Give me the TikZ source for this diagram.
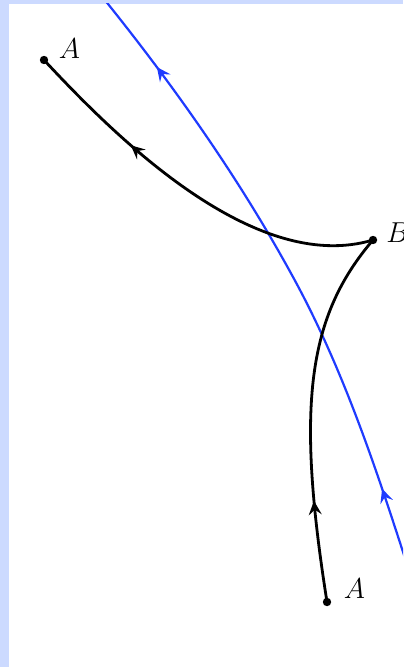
\documentclass[tikz,border=0pt]{standalone}
\usepackage{xcolor}
\usepackage{tikz}
\usetikzlibrary{arrows.meta,decorations.markings}
\definecolor{marco}{HTML}{CCDAFF}
\definecolor{orbita}{HTML}{1F3BFF}

\begin{document}
\begin{tikzpicture}[x=0.5pt, y=-0.5pt,
    punto/.style={circle, fill=black, inner sep=0pt, minimum size=4.2pt},
    etiqueta/.style={inner sep=0pt, font=\fontsize{15}{18}\selectfont},
    flecha/.style={postaction={decorate, decoration={markings,
        mark=at position #1 with {\arrow{Stealth[length=7pt,width=6.5pt,inset=2.6pt]}}}}},
    trayecto/.style={line width=1.4pt}]
        % Fondo y marco
        \useasboundingbox (0,0) rectangle (403,667);
        \fill[white] (0,0) rectangle (403,667);
        \fill[marco] (0,0) rectangle (403,4);
        \fill[marco] (0,0) rectangle (9,667);
        \clip (9,4) rectangle (403,667);

        % Puntos A, B, A
        \node[punto] (A1) at (44,60) {};
        \node[punto] (B) at (373,240) {};
        \node[punto] (A2) at (327,602) {};

        % Etiquetas
        \node[etiqueta] (labA1) at (69.5,49) {$A$};
        \node[etiqueta, anchor=west] (labB) at (386,232.5) {$B$};
        \node[etiqueta] (labA2) at (354.5,589) {$A$};

        % Curva azul
        \draw[orbita, line width=1.1pt, flecha=0.145, flecha=0.87]
            (412,580) .. controls (379,477) and (345,372) .. (293,277)
            .. controls (239,178) and (174,86) .. (104,-1);

        % Trayectorias negras
        \draw[trayecto, flecha=0.69] (B.center) .. controls (253,276) and (112,133) .. (A1.center);
        \draw[trayecto, flecha=0.27] (A2.center) .. controls (295.6,404) and (308,316) .. (B.center);
    \end{tikzpicture}
\end{document}
